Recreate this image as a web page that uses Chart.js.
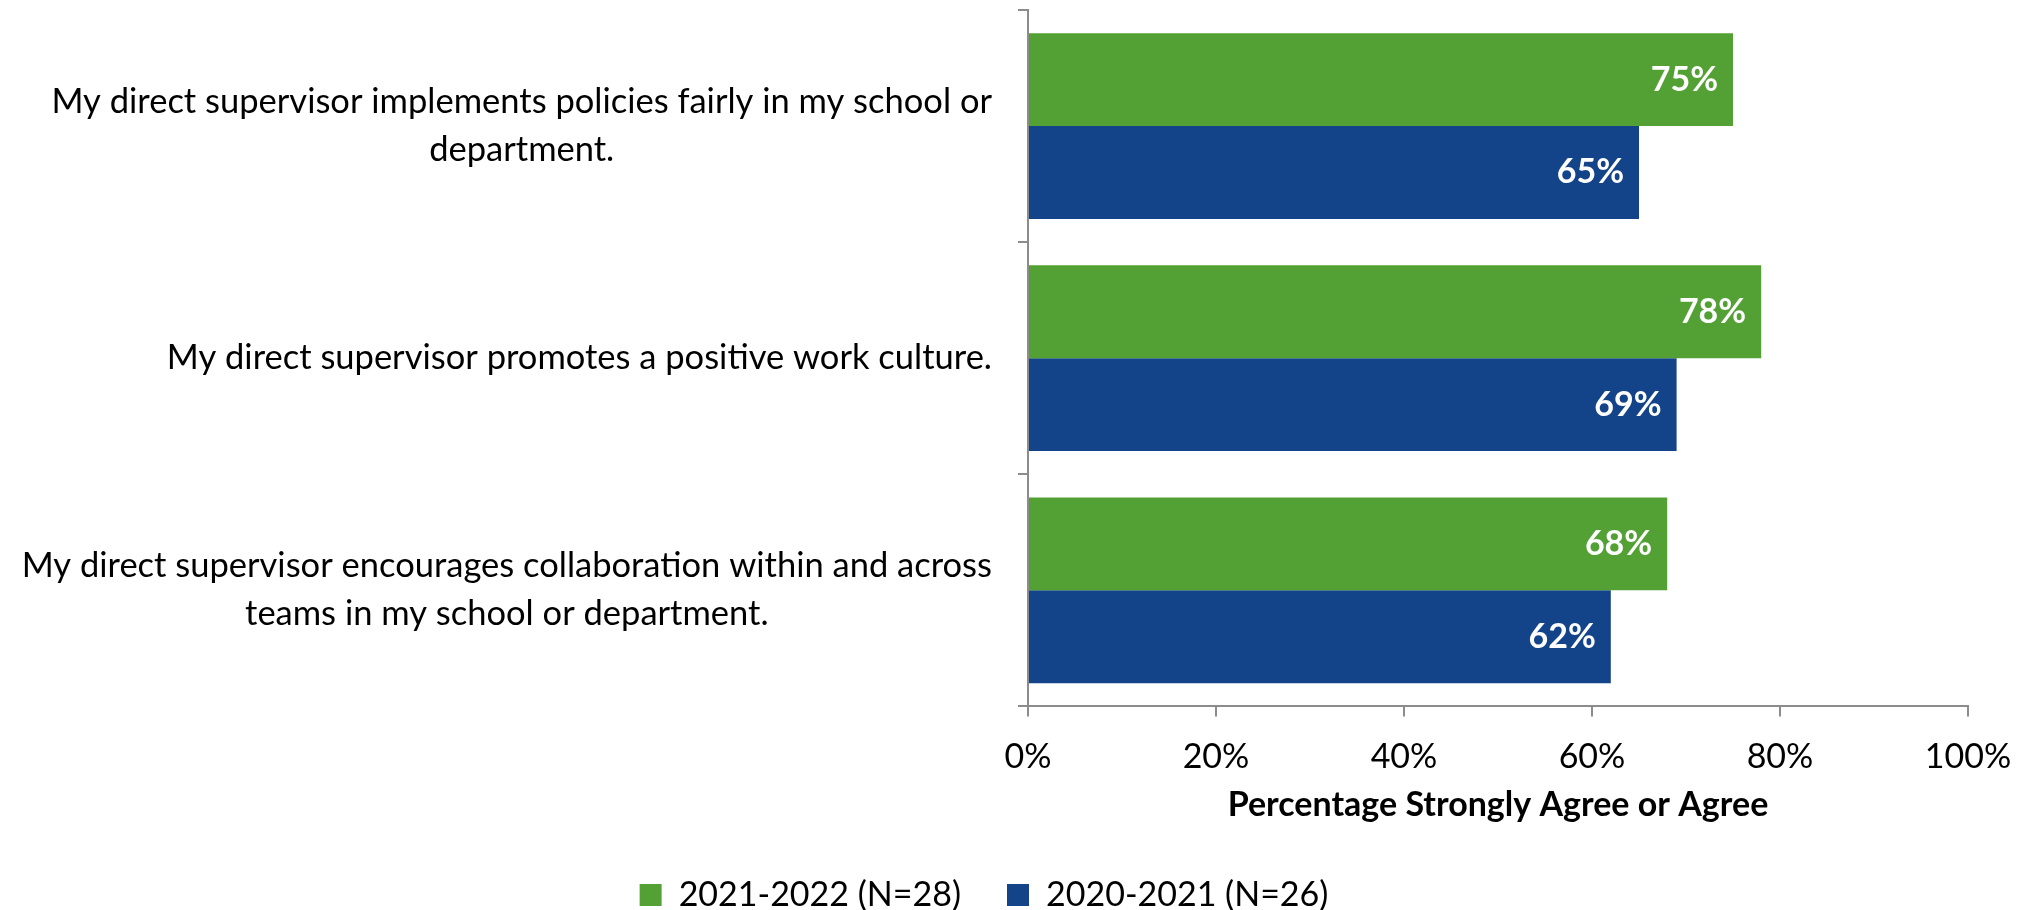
<!DOCTYPE html>
<html>
<head>
<meta charset="utf-8">
<script src="https://cdn.jsdelivr.net/npm/chart.js@4"></script>
<style>
  html, body { margin: 0; padding: 0; background: #fff; }
  #wrap { width: 2033px; height: 910px; }
</style>
</head>
<body>
<div id="wrap"><canvas id="surveyChart"></canvas></div>
<script>
const categories = [
  ['My direct supervisor implements policies fairly in my school or', 'department.'],
  ['My direct supervisor promotes a positive work culture.'],
  ['My direct supervisor encourages collaboration within and across', 'teams in my school or department.']
];
const seriesNames = ['2021-2022 (N=28)', '2020-2021 (N=26)'];
const values2122 = [75, 78, 68];
const values2021 = [65, 69, 62];
const xTicks = [0, 20, 40, 60, 80, 100];

const FONT = 'Lato, "Liberation Sans", sans-serif';
const AXIS_GREY = '#8c8c8c';

// category labels: each label's lines centered on itself, block right-aligned to the axis
const categoryLabels = {
  id: 'categoryLabels',
  afterDraw(chart) {
    const ctx = chart.ctx;
    const yScale = chart.scales.y;
    const right = chart.chartArea.left - 36;
    ctx.save();
    ctx.font = '34.5px ' + FONT;
    ctx.fillStyle = '#000';
    ctx.textAlign = 'center';
    ctx.textBaseline = 'middle';
    const lineH = 48;
    categories.forEach(function (lines, i) {
      const w = Math.max.apply(null, lines.map(function (l) { return ctx.measureText(l).width; }));
      const cx = right - w / 2;
      const cy = yScale.getPixelForTick(i);
      lines.forEach(function (line, j) {
        ctx.fillText(line, cx, cy + (j - (lines.length - 1) / 2) * lineH);
      });
    });
    ctx.restore();
  }
};

// white value labels inside the end of each bar
const barValues = {
  id: 'barValues',
  afterDatasetsDraw(chart) {
    const ctx = chart.ctx;
    ctx.save();
    ctx.font = 'bold 34px ' + FONT;
    ctx.fillStyle = '#fff';
    ctx.textAlign = 'right';
    ctx.textBaseline = 'middle';
    chart.data.datasets.forEach(function (ds, di) {
      chart.getDatasetMeta(di).data.forEach(function (bar, i) {
        ctx.fillText(ds.data[i] + '%', bar.x - 15, bar.y);
      });
    });
    ctx.restore();
  }
};

document.addEventListener("DOMContentLoaded", function () {
  const ctx = document.getElementById('surveyChart').getContext('2d');
  new Chart(ctx, {
    type: 'bar',
    data: {
      labels: categories,
      datasets: [{
        label: seriesNames[0],
        data: values2122,
        backgroundColor: '#53a035',
        categoryPercentage: 0.8,
        barPercentage: 1.0
      }, {
        label: seriesNames[1],
        data: values2021,
        backgroundColor: '#134389',
        categoryPercentage: 0.8,
        barPercentage: 1.0
      }]
    },
    options: {
      indexAxis: 'y',
      responsive: true,
      maintainAspectRatio: false,
      animation: false,
      layout: { padding: { top: 10, right: 65, left: 0, bottom: -12 } },
      scales: {
        x: {
          min: 0,
          max: 100,
          afterBuildTicks: function (scale) {
            scale.ticks = xTicks.map(function (v) { return { value: v }; });
          },
          grid: { drawOnChartArea: false, tickLength: 10, color: AXIS_GREY, lineWidth: 2 },
          border: { color: AXIS_GREY, width: 2 },
          ticks: {
            color: '#000',
            font: { family: FONT, size: 34 },
            padding: 20,
            callback: function (v) { return v + '%'; }
          },
          title: {
            display: true,
            text: 'Percentage Strongly Agree or Agree',
            color: '#000',
            font: { family: FONT, size: 34, weight: 'bold' },
            padding: { top: -13, bottom: 7 }
          }
        },
        y: {
          grid: { drawOnChartArea: false, offset: true, tickLength: 10, color: AXIS_GREY, lineWidth: 2 },
          border: { color: AXIS_GREY, width: 2 },
          ticks: { display: false },
          afterFit: function (scale) { scale.width = 1028; }
        }
      },
      plugins: {
        legend: {
          position: 'bottom',
          labels: {
            color: '#000',
            font: { family: FONT, size: 34 },
            boxWidth: 22,
            boxHeight: 22,
            padding: 46
          }
        },
        tooltip: { enabled: false }
      }
    },
    plugins: [categoryLabels, barValues]
  });
});
</script>
</body>
</html>
